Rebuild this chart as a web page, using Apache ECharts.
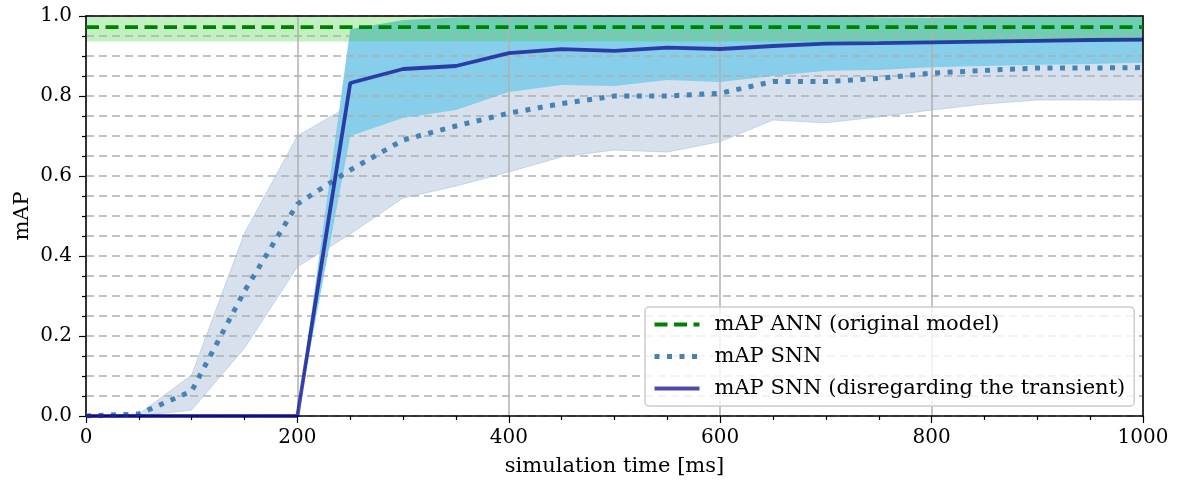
<!DOCTYPE html>
<html>
<head>
<meta charset="utf-8">
<script src="https://cdn.jsdelivr.net/npm/echarts@6/dist/echarts.min.js"></script>
<style>
html,body{margin:0;padding:0;background:#fff;}
#chart{width:1180px;height:482px;}
</style>
</head>
<body>
<div id="chart"></div>
<script>
// ---- data ----
const times = [0,50,100,150,200,250,300,350,400,450,500,550,600,650,700,750,800,850,900,950,1000];
const snnMean  = [0,0.005,0.0625,0.3125,0.53,0.615,0.69,0.725,0.757,0.781,0.800,0.800,0.807,0.836,0.836,0.844,0.857,0.864,0.870,0.870,0.871];
const snnLower = [0,0,0.015,0.17,0.373,0.455,0.545,0.575,0.61,0.648,0.665,0.66,0.686,0.74,0.733,0.748,0.765,0.78,0.79,0.79,0.79];
const snnUpper = [0,0.005,0.1025,0.4575,0.70,0.777,0.80,0.82,0.85,0.87,0.87,0.88,0.88,0.89,0.90,0.90,0.91,0.91,0.92,0.92,0.92];
const snnNoTransient = [0,0,0,0,0,0.8325,0.8675,0.875,0.907,0.917,0.913,0.921,0.9175,0.925,0.931,0.932,0.934,0.936,0.938,0.94,0.941];
const bandTimes = [200,250,300,350,400,450,500,550,600,650,700,750,800,850,900,950,1000];
const noTransLower = [0,0.70,0.745,0.765,0.81,0.8275,0.825,0.84,0.835,0.85,0.863,0.865,0.872,0.875,0.878,0.88,0.883];
const noTransUpper = [0,0.967,0.99,0.996,0.998,1.0,1.0,1.0,1.0,1.0,1.0,0.996,0.995,0.998,1.0,1.0,1.0];
const annMean  = times.map(() => 0.972);
const annLower = times.map(() => 0.936);
const annUpper = times.map(() => 1.0);

const SERIF = "'DejaVu Serif', 'Liberation Serif', serif";
const pairs = (xs, ys) => xs.map((x,i) => [x, ys[i]]);

// filled band between lo and hi, drawn through the cartesian coordinate system
function band(xs, lo, hi, fill, edge) {
  return {
    type:'custom', silent:true, z:1, clip:true, animation:false,
    data: xs.map((x,i) => [x, lo[i], hi[i]]),
    encode:{x:0, y:[1,2]},
    renderItem: function(params, api) {
      if (params.dataIndex !== 0) return null;
      const pts = [];
      for (let i = 0; i < xs.length; i++) pts.push(api.coord([xs[i], hi[i]]));
      for (let i = xs.length - 1; i >= 0; i--) pts.push(api.coord([xs[i], lo[i]]));
      return {
        type:'polygon',
        shape:{points:pts},
        style:{fill:fill, stroke:edge || 'none', lineWidth: edge ? 1 : 0}
      };
    }
  };
}

const chart = echarts.init(document.getElementById('chart'), null, {renderer:'canvas'});
const axisLineStyle = {color:'#000', width:1.5};
chart.setOption({
  animation:false,
  backgroundColor:'#fff',
  grid:{left:86, right:37, top:16, height:400, outerBoundsMode:'none'},
  legend:{
    data:['mAP ANN (original model)','mAP SNN','mAP SNN (disregarding the transient)'],
    orient:'vertical', left:645, top:307,
    itemWidth:45, itemHeight:14, itemGap:11,
    padding:[7,9,7,7],
    itemStyle:{opacity:0},
    lineStyle:{width:'inherit'},
    backgroundColor:'rgba(255,255,255,0.8)', borderColor:'#cccccc', borderWidth:1.5, borderRadius:4,
    textStyle:{fontFamily:SERIF, fontSize:21, color:'#000', padding:[0,0,0,10]},
    z:10
  },
  xAxis:[{
    type:'value', min:0, max:1000, interval:200, z:2,
    name:'simulation time [ms]', nameLocation:'middle', nameGap:40,
    nameTextStyle:{fontFamily:SERIF, fontSize:21, color:'#000'},
    axisLine:{show:true, onZero:false, lineStyle:axisLineStyle},
    axisTick:{show:true, inside:false, length:7, lineStyle:{color:'#000', width:1.2}},
    minorTick:{show:true, splitNumber:4, length:4, lineStyle:{color:'#000', width:1.2}},
    axisLabel:{fontFamily:SERIF, fontSize:20, color:'#000', margin:12,
      formatter:(v)=>String(v)},
    splitLine:{show:true, lineStyle:{color:'#b0b0b0', width:1.5, type:'solid'}},
    minorSplitLine:{show:false}
  },{
    type:'value', min:0, max:1000, position:'top', z:2,
    axisLine:{show:true, onZero:false, lineStyle:axisLineStyle},
    axisTick:{show:false}, axisLabel:{show:false}, splitLine:{show:false}
  }],
  yAxis:[{
    type:'value', min:0, max:1, interval:0.2, z:2,
    name:'mAP', nameLocation:'middle', nameGap:53, nameMoveOverlap:false,
    nameTextStyle:{fontFamily:SERIF, fontSize:21, color:'#000'},
    axisLine:{show:true, onZero:false, lineStyle:axisLineStyle},
    axisTick:{show:true, inside:false, length:7, lineStyle:{color:'#000', width:1.2}},
    minorTick:{show:true, splitNumber:4, length:4, lineStyle:{color:'#000', width:1.2}},
    axisLabel:{fontFamily:SERIF, fontSize:20, color:'#000', margin:14,
      formatter:(v)=>v.toFixed(1)},
    splitLine:{show:true, lineStyle:{color:'#b0b0b0', width:1.5, type:[8,5]}},
    minorSplitLine:{show:true, lineStyle:{color:'#b0b0b0', width:1.5, type:[8,5]}}
  },{
    type:'value', min:0, max:1, position:'right', z:2,
    axisLine:{show:true, onZero:false, lineStyle:axisLineStyle},
    axisTick:{show:false}, axisLabel:{show:false}, splitLine:{show:false}
  }],
  series:[
    band(times, snnLower, snnUpper, 'rgba(176,196,222,0.5)', 'rgba(160,184,214,0.5)'),
    band(bandTimes, noTransLower, noTransUpper, '#87ceeb', null),
    band(times, annLower, annUpper, 'rgba(50,205,50,0.3)', null),
    {name:'mAP SNN', type:'line', data:pairs(times, snnMean), symbol:'none', z:3,
     lineStyle:{color:'#4682b4', width:5, type:[5,7.5], cap:'butt'}, itemStyle:{color:'#4682b4'}},
    {name:'mAP SNN (disregarding the transient)', type:'line', data:pairs(times, snnNoTransient), symbol:'none', z:3,
     lineStyle:{color:'rgba(0,0,139,0.7)', width:3.8}, itemStyle:{color:'rgba(0,0,139,0.7)'}},
    {name:'mAP ANN (original model)', type:'line', data:pairs(times, annMean), symbol:'none', z:3,
     lineStyle:{color:'#008000', width:3.8, type:[13,6.5], cap:'butt'}, itemStyle:{color:'#008000'}}
  ]
});
</script>
</body>
</html>
